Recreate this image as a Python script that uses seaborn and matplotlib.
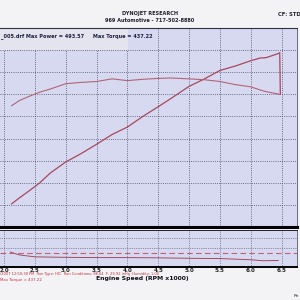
import numpy as np
import pandas as pd
import matplotlib
matplotlib.use('Agg')
import matplotlib.pyplot as plt
import seaborn as sns

# --- values ---
rpm        = [2.12, 2.25, 2.40, 2.58, 2.75, 3.00, 3.25, 3.50, 3.75, 4.00, 4.25,
              4.50, 4.70, 5.00, 5.25, 5.50, 5.75, 6.00, 6.15, 6.25, 6.40, 6.47]
torque     = [374, 386, 395, 405, 412, 424, 427, 429, 435, 431, 434,
              436, 437, 435, 433, 429, 422, 417, 410, 406, 402, 400]
power      = [152, 166, 181, 200, 222, 247, 266, 287, 309, 326, 350,
              372, 390, 418, 435, 454, 464, 476, 482, 483, 490, 493.6]
drop_rpm   = [6.47, 6.48]
drop_power = [493.6, 400]

af_rpm     = [2.10, 2.25, 2.50, 3.00, 3.50, 4.00, 4.50, 5.00, 5.50, 6.00, 6.20, 6.45]
af_ratio   = [13.1, 12.5, 12.1, 12.0, 11.95, 11.95, 11.9, 11.8, 11.75, 11.5, 11.3, 11.35]
af_target  = 12.9

xticks       = [2.0, 2.5, 3.0, 3.5, 4.0, 4.5, 5.0, 5.5, 6.0, 6.5]
title_lines  = ['DYNOJET RESEARCH', '969 Automotive - 717-502-8880']
legend_text  = '_005.drf Max Power = 493.57     Max Torque = 437.22'
run_text     = '/2007 12:50:38 PM  Run Type: HIC  Run Conditions: 88.64  F, 29.92 inHg  Humidity: 1.00'
torque_text  = 'Max Torque = 437.22'

sns.set_theme(style='white')
plt.rcParams['font.family'] = ['DejaVu Sans']

BG = '#d6d9f0'
LINE = '#a8485e'
GRID = '#46486a'

fig = plt.figure(figsize=(3, 3), dpi=100)
fig.patch.set_facecolor('#f3f3f5')

ax = fig.add_axes([0, 1 - 227 / 300, 297 / 300, 199 / 300])
ax2 = fig.add_axes([0, 1 - 267 / 300, 297 / 300, 37 / 300])

df = pd.DataFrame({'rpm': rpm, 'torque': torque, 'power': power})
sns.lineplot(data=df, x='rpm', y='power', ax=ax, color=LINE, lw=0.9, estimator=None)
sns.lineplot(data=df, x='rpm', y='torque', ax=ax, color='#b26478', lw=0.8, estimator=None)
sns.lineplot(x=drop_rpm, y=drop_power, ax=ax, color=LINE, lw=0.9, estimator=None)

ax.set_facecolor(BG)
ax.set_xlim(1.935, 6.75)
ax.set_ylim(100, 550)
ax.set_xticks(xticks)
ax.set_yticks(np.arange(150, 550, 50))
ax.grid(True, color=GRID, lw=0.6, linestyle=(0, (1, 1.6)))
ax.tick_params(length=0, labelbottom=False, labelleft=False)
ax.set_xlabel('')
ax.set_ylabel('')
ax.spines['left'].set_visible(False)
ax.spines['top'].set_color('#333340')
ax.spines['top'].set_linewidth(0.8)
ax.spines['right'].set_color('#555566')
ax.spines['right'].set_linewidth(0.6)
ax.spines['bottom'].set_color('black')
ax.spines['bottom'].set_linewidth(2.2)

# header row box with legend text
ax.add_patch(plt.Rectangle((1.935, 500), 4.01 - 1.935, 50, facecolor='#e4e4ee',
                           edgecolor='none', zorder=2))
ax.text(1.945, 532, legend_text, fontsize=3.6, fontweight='bold', color='#202040',
        va='center', ha='left', zorder=3)

# lower panel
sns.lineplot(x=af_rpm, y=af_ratio, ax=ax2, color=LINE, lw=0.7, estimator=None)
ax2.axhline(af_target, color='#c0607a', lw=0.8, linestyle=(0, (5, 3)))
ax2.set_facecolor(BG)
ax2.set_xlim(1.935, 6.75)
ax2.set_ylim(10, 17.66)
ax2.set_xticks(xticks)
ax2.set_xticklabels([f'{t:.1f}' for t in xticks])
ax2.set_yticks([14, 16])
ax2.grid(True, color=GRID, lw=0.5, linestyle=(0, (1, 1.6)))
ax2.tick_params(length=0, labelleft=False, labelsize=4, pad=0.5)
for lab in ax2.get_xticklabels():
    lab.set_fontweight('bold')
ax2.set_xlabel('')
ax2.set_ylabel('')
ax2.spines['left'].set_visible(False)
ax2.spines['top'].set_color('#222230')
ax2.spines['top'].set_linewidth(0.7)
ax2.spines['right'].set_color('#555566')
ax2.spines['right'].set_linewidth(0.6)
ax2.spines['bottom'].set_color('black')
ax2.spines['bottom'].set_linewidth(1.4)

# page text
fig.text(150 / 300, 1 - 14 / 300, title_lines[0], fontsize=3.6, fontweight='bold',
         color='#202030', ha='center', va='center')
fig.text(150 / 300, 1 - 20 / 300, title_lines[1], fontsize=3.6, fontweight='bold',
         color='#202030', ha='center', va='center')
fig.text(289 / 300, 1 - 15 / 300, 'CF: STD', fontsize=3.8, fontweight='bold',
         color='#202030', ha='center', va='center')
fig.text(0, 1 - 274.5 / 300, run_text, fontsize=2.6, color='#c03040', ha='left', va='center')
fig.text(0, 1 - 280 / 300, torque_text, fontsize=2.8, color='#c03040', ha='left', va='center')
fig.text(142 / 300, 1 - 278.5 / 300, 'Engine Speed (RPM x1000)', fontsize=4.4,
         fontweight='bold', color='#101018', ha='center', va='center')
fig.text(296 / 300, 1 - 296 / 300, 'Re', fontsize=3.2, color='#303040', ha='center', va='center')

fig.savefig('out.png', dpi=100, facecolor=fig.get_facecolor())
